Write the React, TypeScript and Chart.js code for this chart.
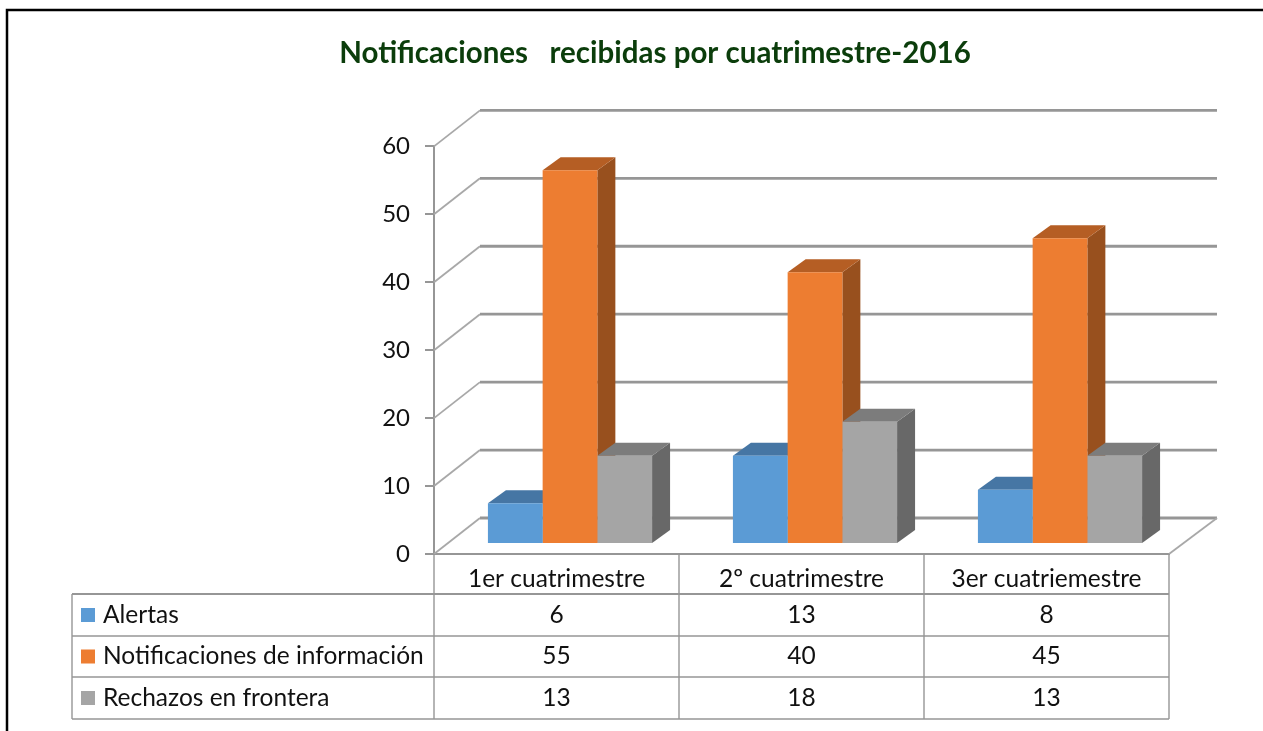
import React, { useEffect, useRef } from "react";
import { Chart, registerables } from "chart.js";

Chart.register(...registerables);

const titleText = "Notificaciones   recibidas por cuatrimestre-2016";
const categories = ["1er cuatrimestre", "2º cuatrimestre", "3er cuatriemestre"];
const alertas = [6, 13, 8];
const notificaciones = [55, 40, 45];
const rechazos = [13, 18, 13];
const seriesNames = ["Alertas", "Notificaciones de información", "Rechazos en frontera"];
const frontColors = ["#5B9BD5", "#ED7D31", "#A5A5A5"];
const topColors = ["#4676A4", "#B55E24", "#7C7C7C"];
const sideColors = ["#3F6C96", "#98501E", "#686868"];
const FONT = "Lato, 'Noto Sans', sans-serif";

const DEPTH_X = 46;
const DEPTH_Y = 36;
const BAR_SHIFT_X = 13.5;
const BAR_SHIFT_Y = -10;
const BAR_DEPTH_X = 18;
const BAR_DEPTH_Y = 13;
const ROW_LINES = [594, 636, 677, 719];
const TABLE_LEFT = 72;
const GRID = "#969696";

const frame = {
  id: "frame",
  beforeDraw(chart: any) {
    const c = chart.ctx;
    c.save();
    c.fillStyle = "#ffffff";
    c.fillRect(0, 0, chart.width, chart.height);
    c.strokeStyle = "#000000";
    c.lineWidth = 2.5;
    c.beginPath();
    c.moveTo(7, chart.height);
    c.lineTo(7, 10);
    c.lineTo(chart.width, 10);
    c.stroke();
    c.restore();
  },
};

const walls = {
  id: "walls",
  beforeDatasetsDraw(chart: any) {
    const c = chart.ctx;
    const y = chart.scales.y;
    const { left, right } = chart.chartArea;
    c.save();
    y.ticks.forEach((t: any) => {
      const py = y.getPixelForValue(t.value);
      c.strokeStyle = "#A8A8A8";
      c.lineWidth = 1.8;
      c.beginPath();
      c.moveTo(left, py);
      c.lineTo(left + DEPTH_X, py - DEPTH_Y);
      c.stroke();
      c.strokeStyle = GRID;
      c.lineWidth = 2.8;
      c.beginPath();
      c.moveTo(left + DEPTH_X, py - DEPTH_Y);
      c.lineTo(right + DEPTH_X + 2, py - DEPTH_Y);
      c.stroke();
    });
    const p0 = y.getPixelForValue(0);
    c.strokeStyle = "#A8A8A8";
    c.lineWidth = 1.8;
    c.beginPath();
    c.moveTo(right, p0);
    c.lineTo(right + DEPTH_X + 2, p0 - DEPTH_Y);
    c.stroke();

    // 3D faces of every bar, from the bar elements the library laid out
    chart.data.datasets.forEach((_: any, di: number) => {
      chart.getDatasetMeta(di).data.forEach((bar: any) => {
        const { x, y: top, base, width } = bar.getProps(["x", "y", "base", "width"], true);
        const l = x - width / 2 + BAR_SHIFT_X;
        const r = x + width / 2 + BAR_SHIFT_X;
        const t = top + BAR_SHIFT_Y;
        const b = base + BAR_SHIFT_Y;
        c.fillStyle = sideColors[di];
        c.beginPath();
        c.moveTo(r, t);
        c.lineTo(r + BAR_DEPTH_X, t - BAR_DEPTH_Y);
        c.lineTo(r + BAR_DEPTH_X, b - BAR_DEPTH_Y);
        c.lineTo(r, b);
        c.closePath();
        c.fill();
        c.fillStyle = topColors[di];
        c.beginPath();
        c.moveTo(l, t);
        c.lineTo(l + BAR_DEPTH_X, t - BAR_DEPTH_Y);
        c.lineTo(r + BAR_DEPTH_X, t - BAR_DEPTH_Y);
        c.lineTo(r, t);
        c.closePath();
        c.fill();
      });
    });
    c.restore();
    c.save();
    c.translate(BAR_SHIFT_X, BAR_SHIFT_Y);
  },
  afterDatasetsDraw(chart: any) {
    chart.ctx.restore();
  },
};

const dataTable = {
  id: "dataTable",
  afterDraw(chart: any) {
    const c = chart.ctx;
    const x = chart.scales.x;
    const { left, right } = chart.chartArea;
    const bottom = ROW_LINES[ROW_LINES.length - 1];
    const edges = [left, ...categories.map((_, i) => (x.getPixelForValue(i) + x.getPixelForValue(i + 1)) / 2)];
    edges[edges.length - 1] = right;
    c.save();
    c.strokeStyle = GRID;
    ROW_LINES.forEach((ly, i) => {
      c.lineWidth = i === 0 ? 2 : 1.4;
      c.beginPath();
      c.moveTo(TABLE_LEFT, ly);
      c.lineTo(right, ly);
      c.stroke();
    });
    c.lineWidth = 1.4;
    c.beginPath();
    c.moveTo(TABLE_LEFT, ROW_LINES[0]);
    c.lineTo(TABLE_LEFT, bottom);
    c.stroke();
    edges.forEach((ex) => {
      c.beginPath();
      c.moveTo(ex, chart.chartArea.bottom);
      c.lineTo(ex, bottom);
      c.stroke();
    });
    c.font = `24.5px ${FONT}`;
    c.textBaseline = "middle";
    chart.data.datasets.forEach((ds: any, di: number) => {
      const cy = (ROW_LINES[di] + ROW_LINES[di + 1]) / 2;
      c.fillStyle = frontColors[di];
      c.fillRect(81, cy - 7, 14, 14);
      c.fillStyle = "#111111";
      c.textAlign = "left";
      c.fillText(seriesNames[di], 103, cy);
      c.textAlign = "center";
      ds.data.forEach((v: number, i: number) => {
        c.fillText(String(v), x.getPixelForValue(i), cy);
      });
    });
    c.restore();
  },
};

export default function App() {
  const ref = useRef<HTMLCanvasElement>(null);
  useEffect(() => {
    const chart = new Chart(ref.current!, {
      type: "bar",
      data: {
        labels: categories,
        datasets: [alertas, notificaciones, rechazos].map((data, i) => ({
          label: seriesNames[i],
          data,
          backgroundColor: frontColors[i],
          borderWidth: 0,
          clip: false as any,
          barPercentage: 1,
          categoryPercentage: 0.67,
        })),
      },
      options: {
        responsive: false,
        animation: false,
        layout: { padding: { left: 141, right: 94, top: 0, bottom: 0 } },
        plugins: {
          legend: { display: false },
          tooltip: { enabled: false },
          title: {
            display: true,
            text: titleText,
            color: "#0B3D0B",
            font: { family: FONT, size: 29.5, weight: "bold" },
            padding: { top: 36, bottom: 75 },
          },
        },
        scales: {
          x: {
            grid: { display: false },
            border: { display: true, color: GRID, width: 2 },
            ticks: { color: "#111111", font: { family: FONT, size: 24.5 }, padding: 2, maxRotation: 0 },
            afterFit(s: any) {
              s.height = 177;
            },
          },
          y: {
            min: 0,
            max: 60,
            grid: { drawOnChartArea: false, drawTicks: true, tickLength: 9, color: GRID, lineWidth: 2 },
            border: { display: true, color: GRID, width: 2 },
            ticks: { stepSize: 10, color: "#111111", font: { family: FONT, size: 24 }, padding: 15 },
            afterFit(s: any) {
              s.width = 293;
            },
          },
        },
      },
      plugins: [frame, walls, dataTable],
    } as any);
    return () => chart.destroy();
  }, []);
  return (
    <canvas
      ref={ref}
      width={1263}
      height={731}
      style={{ position: "fixed", left: 0, top: 0, width: 1263, height: 731, display: "block" }}
    />
  );
}
